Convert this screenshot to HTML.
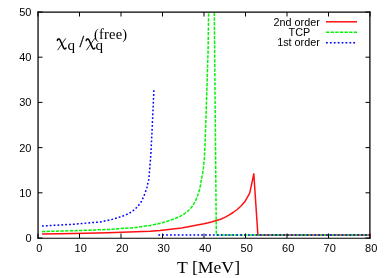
<!DOCTYPE html>
<html><head><meta charset="utf-8"><title>plot</title>
<style>
html,body{margin:0;padding:0;background:#fff;}
body{width:387px;height:278px;overflow:hidden;position:relative;}
svg{position:absolute;left:0;top:0;display:block;will-change:transform;}
text{font-family:"Liberation Sans",sans-serif;font-size:11px;fill:#000;}
.ser{font-family:"Liberation Serif",serif;}
</style></head><body>
<svg width="387" height="278" viewBox="0 0 387 278">
<defs><clipPath id="c"><rect x="38" y="12" width="332" height="226"/></clipPath></defs>
<rect x="0" y="0" width="387" height="278" fill="#fff"/>
<g clip-path="url(#c)" fill="none" stroke-width="1.5" stroke-linejoin="round">
<path d="M42.0,234.0 L74.2,233.6 L108.0,232.7 L150.0,231.2 L160.0,230.4 L181.6,227.9 L204.0,223.8 L208.2,222.8 L212.3,221.7 L216.4,220.5 L220.6,219.2 L224.8,217.4 L228.9,215.1 L233.1,212.5 L237.2,209.5 L241.3,205.8 L245.5,200.7 L249.7,193.2 L253.8,173.8 L257.9,235.1 L370.0,235.1" stroke="#ff1010"/>
<path d="M42.0,231.5 L74.2,230.7 L108.0,229.5 L118.1,228.8 L136.2,227.4 L150.1,225.4 L154.2,224.6 L158.3,223.7 L162.5,222.7 L166.7,221.5 L170.6,220.1 L175.8,218.2 L180.4,216.2 L184.2,214.0 L188.1,210.8 L191.4,207.5 L194.0,203.7 L195.9,199.9 L197.7,195.6 L199.4,190.3 L200.5,185.0 L201.4,179.8 L202.4,174.5 L203.2,169.9 L204.4,158.0 L205.2,140.0 L205.9,120.0 L207.0,85.0 L208.1,50.0 L208.6,12.0 L209.2,-30.0 L211.5,-300.0 L213.9,-30.0 L214.3,12.0 L216.3,234.0 L216.4,235.1 L370.0,235.1" stroke="#00f600" stroke-dasharray="3.3 1.33"/>
<path d="M42.0,226.0 L74.2,224.2 L92.2,222.6 L100.0,222.1 L103.6,221.2 L110.8,219.8 L118.1,217.6 L123.5,215.8 L128.9,213.5 L133.5,210.4 L138.0,206.2 L141.2,201.7 L143.4,197.2 L145.2,192.7 L147.0,187.2 L148.1,181.8 L148.8,180.0 L150.8,155.0 L152.1,130.0 L153.9,90.2" stroke="#0000ff" stroke-dasharray="1.8 2.0720"/>
<path d="M158.3,235.1 L370.0,235.1" stroke="#0000ff" stroke-dasharray="1.8 2.1"/>
</g>
<g stroke="#000" stroke-width="1" fill="none">
<path d="M38.05,11.5 V238.8 M369.9,11.5 V238.8" stroke-width="1.25"/><path d="M37.4,12.1 H370.5" stroke-width="1.25"/><path d="M37.4,238.25 H370.5" stroke-width="1.15"/>
<path d="M38.00,238 v-4.5 M38.00,12 v4.5"/><path d="M79.50,238 v-4.5 M79.50,12 v4.5"/><path d="M121.00,238 v-4.5 M121.00,12 v4.5"/><path d="M162.50,238 v-4.5 M162.50,12 v4.5"/><path d="M204.00,238 v-4.5 M204.00,12 v4.5"/><path d="M245.50,238 v-4.5 M245.50,12 v4.5"/><path d="M287.00,238 v-4.5 M287.00,12 v4.5"/><path d="M328.50,238 v-4.5 M328.50,12 v4.5"/><path d="M370.00,238 v-4.5 M370.00,12 v4.5"/><path d="M38,238.00 h4.5 M370,238.00 h-4.5"/><path d="M38,192.80 h4.5 M370,192.80 h-4.5"/><path d="M38,147.60 h4.5 M370,147.60 h-4.5"/><path d="M38,102.40 h4.5 M370,102.40 h-4.5"/><path d="M38,57.20 h4.5 M370,57.20 h-4.5"/><path d="M38,12.00 h4.5 M370,12.00 h-4.5"/>
</g>
<g><text x="39.2" y="252" text-anchor="middle">0</text><text x="80.7" y="252" text-anchor="middle">10</text><text x="122.2" y="252" text-anchor="middle">20</text><text x="163.7" y="252" text-anchor="middle">30</text><text x="205.2" y="252" text-anchor="middle">40</text><text x="246.7" y="252" text-anchor="middle">50</text><text x="288.2" y="252" text-anchor="middle">60</text><text x="329.7" y="252" text-anchor="middle">70</text><text x="371.2" y="252" text-anchor="middle">80</text><text x="31.5" y="241.9" text-anchor="end">0</text><text x="31.5" y="196.7" text-anchor="end">10</text><text x="31.5" y="151.5" text-anchor="end">20</text><text x="31.5" y="106.3" text-anchor="end">30</text><text x="31.5" y="61.1" text-anchor="end">40</text><text x="31.5" y="15.9" text-anchor="end">50</text></g>
<text x="319.8" y="25.6" text-anchor="end" style="font-size:10.8px">2nd order</text>
<text x="310.2" y="35.9" text-anchor="end" style="font-size:10.8px">TCP</text>
<text x="319.8" y="46.4" text-anchor="end" style="font-size:10.8px">1st order</text>
<g fill="none" stroke-width="1.5">
<path d="M326,21.8 H357" stroke="#ff1010"/>
<path d="M326,32.3 H357" stroke="#00f600" stroke-dasharray="3.3 1.33"/>
<path d="M326,42.8 H357" stroke="#0000ff" stroke-dasharray="1.8 2.1"/>
</g>
<text class="ser" x="177.0" y="273.1" style="font-size:17.7px">T [MeV]</text>
<g fill="none" stroke="#000" stroke-linecap="round">
<path d="M57.3,40.4 C57.5,38.9 59.4,38.6 60.1,40.0 L63.6,47.9 C64.2,49.3 65.5,49.3 66.0,48.0" stroke-width="1.5"/>
<path d="M65.6,38.6 L57.8,49.9" stroke-width="0.8"/>
<path d="M86.2,40.4 C86.4,38.9 88.3,38.6 89.0,40.0 L92.5,47.9 C93.1,49.3 94.4,49.3 94.9,48.0" stroke-width="1.5"/>
<path d="M94.5,38.6 L86.7,49.9" stroke-width="0.8"/>
</g>
<text class="ser" x="67.5" y="49.6" style="font-size:15.2px">q</text>
<text class="ser" x="79.6" y="46.7" style="font-size:16.5px;stroke:#000;stroke-width:0.35px">/</text>
<text class="ser" x="95.5" y="49.6" style="font-size:15.2px">q</text>
<text class="ser" x="94.1" y="38.5" style="font-size:14.4px;letter-spacing:0.2px">(free)</text>
</svg>
</body></html>
